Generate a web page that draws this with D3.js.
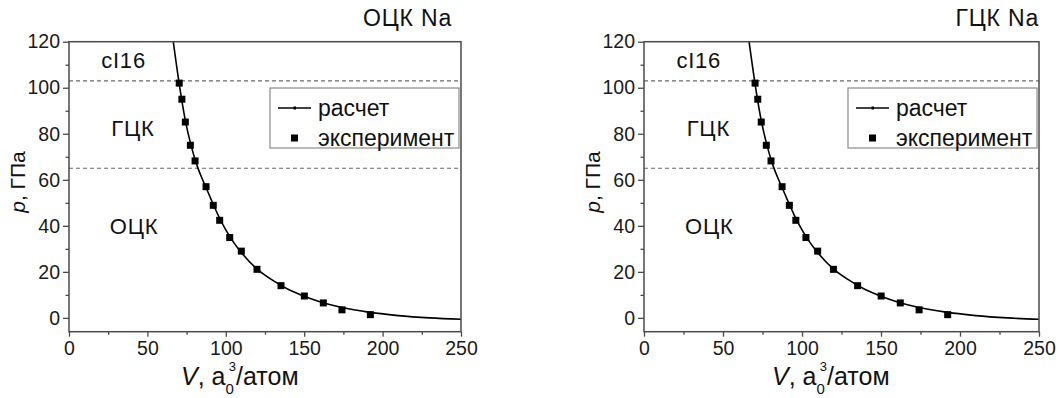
<!DOCTYPE html>
<html>
<head>
<meta charset="utf-8">
<script src="https://cdn.jsdelivr.net/npm/d3@7"></script>
<style>
  html, body { margin: 0; padding: 0; background: #fff; }
  svg { display: block; font-family: "Liberation Sans", Arial, sans-serif; }
</style>
</head>
<body>
<svg id="chart" width="1060" height="398"></svg>
<script>
// Calculated equation of state p(V) for Na (solid line)
const calcV = [66.5, 70, 74, 78, 82, 86, 90, 95, 100, 105, 110, 120, 130, 140, 150, 160, 175, 190, 210, 230, 250];
const calcP = [120, 103, 86.5, 74.5, 65.5, 58.8, 52.5, 44.8, 38.2, 32.8, 28.3, 21.2, 16.3, 12.3, 9.4, 7.0, 4.4, 2.6, 1.0, 0.0, -0.6];

// Experimental points (squares)
const expV = [70.3, 72.0, 74.2, 77.4, 80.4, 87.4, 92.0, 96.1, 102.5, 109.9, 119.9, 135.2, 150.1, 162.2, 174.1, 192.2];
const expP = [102.0, 95.0, 85.1, 75.0, 68.2, 57.0, 48.9, 42.4, 34.9, 29.0, 21.1, 14.0, 9.5, 6.5, 3.5, 1.4];

// Phase boundaries (dashed) and region labels
const boundaries = [103, 65];
const phaseNames = ["cI16", "ГЦК", "ОЦК"];
const phaseV = [20.5, 27, 26];
const phaseP = [112, 82.6, 39.8];

const xTicks = [0, 50, 100, 150, 200, 250];
const xMinor = [25, 75, 125, 175, 225];
const yTicks = [0, 20, 40, 60, 80, 100, 120];
const yMinor = [10, 30, 50, 70, 90, 110];

const legendNames = ["расчет", "эксперимент"];
const panelTitles = ["ОЦК Na", "ГЦК Na"];

// Panel geometry
const panels = [
  { left: 69, right: 461, titleX: 452, xLabelX: 181 },
  { left: 644, right: 1039, titleX: 1039, xLabelX: 772 }
];
const plotTop = 41.7, plotBottom = 331.7;

const svg = d3.select("#chart");
const axisColor = "#4a4a4a";

const curvePts = calcV.map((v, i) => [v, calcP[i]]);
const expPts = expV.map((v, i) => [v, expP[i]]);

panels.forEach((pn, k) => {
  const x = d3.scaleLinear().domain([0, 250]).range([pn.left, pn.right]);
  const y = d3.scaleLinear().domain([-6, 120]).range([plotBottom, plotTop]);

  const g = svg.append("g");
  const clipId = "clip" + k;
  svg.append("clipPath").attr("id", clipId)
    .append("rect").attr("x", pn.left).attr("y", plotTop)
    .attr("width", pn.right - pn.left).attr("height", plotBottom - plotTop);

  // dashed phase boundaries
  g.selectAll("line.bound").data(boundaries).join("line")
    .attr("x1", pn.left).attr("x2", pn.right)
    .attr("y1", d => y(d)).attr("y2", d => y(d))
    .attr("stroke", "#6a6a6a").attr("stroke-width", 1.1)
    .attr("stroke-dasharray", "4,3");

  // phase labels
  g.selectAll("text.phase").data(phaseNames).join("text")
    .attr("x", (d, i) => x(phaseV[i]))
    .attr("y", (d, i) => y(phaseP[i]))
    .attr("dy", "0.36em")
    .attr("font-size", 22).attr("letter-spacing", 0.8).attr("fill", "#111")
    .text(d => d);

  // calculated curve
  const line = d3.line().x(d => x(d[0])).y(d => y(d[1])).curve(d3.curveMonotoneX);
  g.append("path").datum(curvePts)
    .attr("clip-path", `url(#${clipId})`)
    .attr("d", line).attr("fill", "none")
    .attr("stroke", "#000").attr("stroke-width", 1.6);

  // experimental squares
  const s = 7;
  g.selectAll("rect.exp").data(expPts).join("rect")
    .attr("x", d => x(d[0]) - s / 2).attr("y", d => y(d[1]) - s / 2)
    .attr("width", s).attr("height", s).attr("fill", "#000");

  // frame
  g.append("rect").attr("x", pn.left).attr("y", plotTop)
    .attr("width", pn.right - pn.left).attr("height", plotBottom - plotTop)
    .attr("fill", "none").attr("stroke", axisColor).attr("stroke-width", 1.5);

  // axes
  const xAxis = d3.axisBottom(x).tickValues(xTicks).tickSize(5).tickPadding(4).tickFormat(d3.format("d"));
  const xAxisMinor = d3.axisBottom(x).tickValues(xMinor).tickSize(3).tickFormat("");
  const yAxis = d3.axisLeft(y).tickValues(yTicks).tickSize(6).tickPadding(3).tickFormat(d3.format("d"));
  const yAxisMinor = d3.axisLeft(y).tickValues(yMinor).tickSize(3.5).tickFormat("");

  [[xAxis, "x"], [xAxisMinor, "x"], [yAxis, "y"], [yAxisMinor, "y"]].forEach(([ax, t]) => {
    const a = g.append("g")
      .attr("transform", t === "x" ? `translate(0,${plotBottom})` : `translate(${pn.left},0)`)
      .call(ax);
    a.select(".domain").remove();
    a.selectAll("line").attr("stroke", axisColor).attr("stroke-width", 1.3);
    a.selectAll("text").attr("font-size", 19.5).attr("fill", "#1a1a1a")
      .attr("font-family", "Liberation Sans, Arial, sans-serif");
  });

  // panel title
  g.append("text").attr("x", pn.titleX).attr("y", 25.5)
    .attr("text-anchor", "end").attr("font-size", 23).attr("letter-spacing", 0.8).attr("fill", "#111")
    .text(panelTitles[k]);

  // y axis label
  const yl = g.append("text")
    .attr("transform", `translate(${pn.left - 44},182) rotate(-90)`)
    .attr("text-anchor", "middle").attr("font-size", 21).attr("fill", "#111");
  yl.append("tspan").attr("font-style", "italic").text("p");
  yl.append("tspan").text(", ГПа");

  // x axis label: V, a0^3/атом with stacked sub- and superscript
  const xl = g.append("text").attr("x", pn.xLabelX).attr("y", 385)
    .attr("font-size", 25).attr("fill", "#111");
  xl.append("tspan").attr("font-style", "italic").text("V");
  xl.append("tspan").text(", a");
  xl.append("tspan").attr("font-size", 15).attr("dy", 9).text("0");
  xl.append("tspan").attr("font-size", 13).attr("dx", -5).attr("dy", -23).text("3");
  xl.append("tspan").attr("dy", 14).text("/атом");

  // legend
  const lx = pn.right - 191, ly = 88, lw = 189, lh = 60;
  const lg = g.append("g");
  lg.append("rect").attr("x", lx).attr("y", ly).attr("width", lw).attr("height", lh)
    .attr("fill", "#fff").attr("stroke", "#8a8a8a").attr("stroke-width", 1.2);
  lg.append("line").attr("x1", lx + 8).attr("x2", lx + 41)
    .attr("y1", ly + 20).attr("y2", ly + 20)
    .attr("stroke", "#000").attr("stroke-width", 1.6);
  lg.append("rect").attr("x", lx + 23.5).attr("y", ly + 18.5).attr("width", 2.5).attr("height", 3).attr("fill", "#000");
  lg.append("rect").attr("x", lx + 21).attr("y", ly + 46.5).attr("width", 7).attr("height", 7).attr("fill", "#000");
  lg.selectAll("text.leg").data(legendNames).join("text")
    .attr("x", lx + 48).attr("y", (d, i) => ly + 20 + i * 30)
    .attr("dy", "0.36em").attr("font-size", 23).attr("fill", "#111")
    .text(d => d);
});
</script>
</body>
</html>
